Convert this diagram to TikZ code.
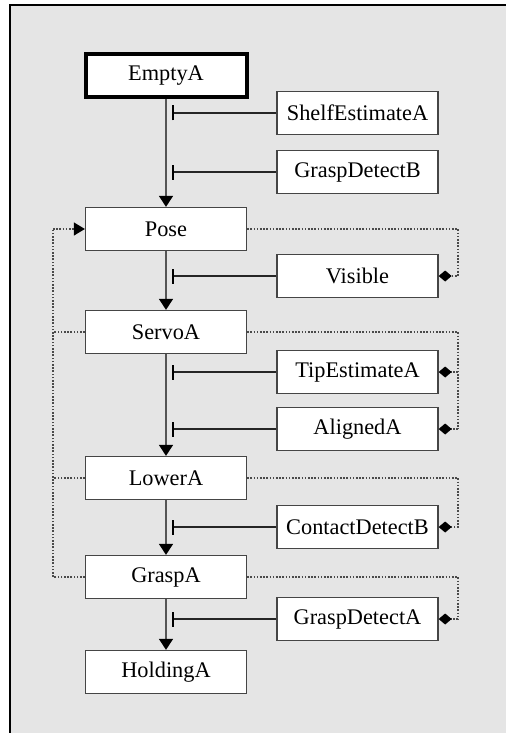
\documentclass[tikz,border=0pt]{standalone}
\usepackage{fontspec}
\setmainfont{Liberation Serif}
\usetikzlibrary{arrows.meta}

\definecolor{panel}{HTML}{E5E5E5}
\definecolor{boxline}{HTML}{454545}
\definecolor{flowline}{HTML}{555555}
\definecolor{linkline}{HTML}{4A4A4A}

\tikzset{
  state/.style={draw=boxline, line width=1.3bp, fill=white,
    minimum width=161bp, minimum height=43bp, inner sep=0pt,
    font=\fontsize{22.4pt}{26pt}\selectfont},
  startstate/.style={state, draw=black, line width=4bp},
  sensor/.style={state},
  flow/.style={draw=flowline, line width=1.5bp,
    -{Triangle[width=14bp,length=11bp,black]}},
  inhibit/.style={draw=black!85, line width=1.2bp,
    -{Bar[width=15bp,line width=2.2bp,black]}},
  link/.style={draw=linkline, line width=1.2bp, dash pattern=on 1.6bp off 1.6bp},
  linkdiamond/.style={link, -{Diamond[width=11bp,length=13bp,black]}},
  linkarrow/.style={link, -{Triangle[width=13bp,length=11bp,black]}}
}

\begin{document}
\begin{tikzpicture}[x=1bp, y=-1bp]
  \useasboundingbox (0,0) rectangle (506,733);
  % framed panel (only the top and left edges fall inside the page)
  \fill[panel] (10,5) rectangle (506,733);
  \draw[black, line width=1.5bp] (10,733) -- (10,5) -- (506,5);

  % main sequence of states
  \node[startstate] (empty)   at (166,76)  {EmptyA};
  \node[state]      (pose)    at (166,229) {Pose};
  \node[state]      (servo)   at (166,332) {ServoA};
  \node[state]      (lower)   at (166,478) {LowerA};
  \node[state]      (grasp)   at (166,577) {GraspA};
  \node[state]      (holding) at (166,672) {HoldingA};

  % sensing / condition nodes
  \node[sensor] (shelf)   at (357.5,113) {ShelfEstimateA};
  \node[sensor] (gdetb)   at (357.5,172) {GraspDetectB};
  \node[sensor] (visible) at (357.5,276) {Visible};
  \node[sensor] (tip)     at (357.5,372) {TipEstimateA};
  \node[sensor] (aligned) at (357.5,429) {AlignedA};
  \node[sensor] (contact) at (357.5,527) {ContactDetectB};
  \node[sensor] (gdeta)   at (357.5,619) {GraspDetectA};

  % guide columns for the dotted links
  \coordinate (lx) at (53,0);
  \coordinate (rx) at (458,0);
  \coordinate (bx) at (172,0);

  % transitions
  \draw[flow] (empty) -- (pose);
  \draw[flow] (pose) -- (servo);
  \draw[flow] (servo) -- (lower);
  \draw[flow] (lower) -- (grasp);
  \draw[flow] (grasp) -- (holding);

  % inhibiting conditions
  \foreach \s in {shelf, gdetb, visible, tip, aligned, contact, gdeta}
    \draw[inhibit] (\s.west) -- (\s.west -| bx);

  % links from states to their conditions
  \draw[linkdiamond] (pose.east) -- (pose.east -| rx) -- (visible.east -| rx) -- (visible.east);
  \draw[link] (servo.east) -- (servo.east -| rx) -- (aligned.east -| rx);
  \draw[linkdiamond] (tip.east -| rx) -- (tip.east);
  \draw[linkdiamond] (aligned.east -| rx) -- (aligned.east);
  \draw[linkdiamond] (lower.east) -- (lower.east -| rx) -- (contact.east -| rx) -- (contact.east);
  \draw[linkdiamond] (grasp.east) -- (grasp.east -| rx) -- (gdeta.east -| rx) -- (gdeta.east);

  % fallback links back to Pose
  \draw[link] (grasp.west) -- (grasp.west -| lx) -- (pose.west -| lx);
  \draw[link] (servo.west) -- (servo.west -| lx);
  \draw[link] (lower.west) -- (lower.west -| lx);
  \draw[linkarrow] (pose.west -| lx) -- (pose.west);
\end{tikzpicture}
\end{document}
